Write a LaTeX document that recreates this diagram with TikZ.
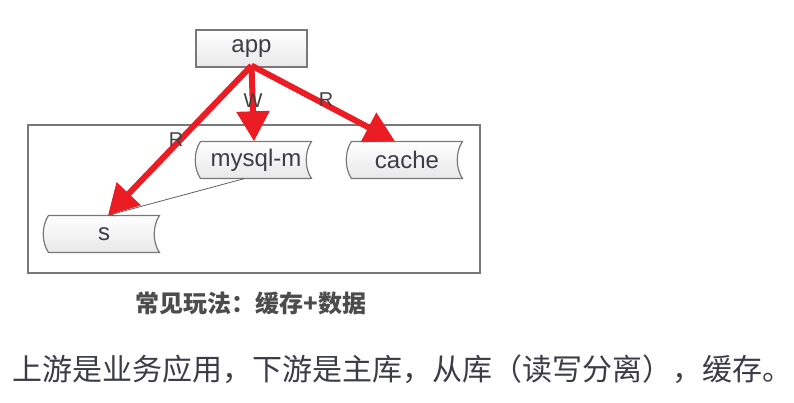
\documentclass[tikz,border=0pt]{standalone}
\usepackage{fontspec}
\setmainfont{Liberation Sans}
\newfontfamily\cjk{Noto Sans CJK SC}
\usetikzlibrary{arrows.meta,positioning,calc}
\definecolor{flowred}{RGB}{235,28,36}
\definecolor{boxline}{RGB}{120,120,120}
\definecolor{txtgray}{RGB}{60,60,70}
\tikzset{
    appbox/.style={draw=boxline, line width=1.2pt, top color=white, bottom color=gray!18,
                   minimum width=111pt, minimum height=37pt, font=\fontsize{24}{26}\selectfont, text=txtgray},
    tapefill/.style={draw=boxline, line width=1.2pt, top color=white, bottom color=gray!18},
    tapetext/.style={minimum width=111pt, minimum height=37pt, font=\fontsize{24}{26}\selectfont, text=txtgray},
    frame/.style={draw=boxline, line width=1.5pt},
    flow/.style={flowred, line width=6pt, -{Triangle[length=30pt,width=32pt]}},
    sync/.style={boxline!80!black, line width=0.8pt, -{Stealth[length=7pt,width=6pt]}},
    lbl/.style={font=\fontsize{20}{22}\selectfont, text=black!75},
}
% tape-like store: outline first, then the named node on top
\newcommand{\tapenode}[3]{%
    \path[tapefill] ($(#2)+(-55.5,18.5)$) .. controls +(-7,-10) and +(-7,10) .. ++(0,-37)
        -- ++(111,0) .. controls +(-7,10) and +(-7,-10) .. ++(0,37) -- cycle;
    \node[tapetext] (#1) at (#2) {#3};}

\begin{document}
\begin{tikzpicture}[x=1pt, y=1pt]
    \useasboundingbox (0,0) rectangle (794,-402);

    % Container
    \node[frame, minimum width=452pt, minimum height=148pt, inner sep=0pt] (db) at (254,-199) {};

    % App
    \node[appbox] (app) at (251.5,-48.5) {app};

    % Stores
    \tapenode{master}{256,-160}{mysql-m}
    \tapenode{cache}{407,-160}{cache}
    \tapenode{slave}{104,-234}{s}

    % Replication
    \coordinate (mout) at ($(master.south)+(-12,0)$);
    \coordinate (sin) at ($(slave.north)+(4,0)$);
    \draw[sync] (mout) -- (sin);

    % Reads and writes
    \coordinate (aout) at ($(app.south)+(0,2)$);
    \draw[flow] (aout) -- ($(master.north)+(-2,0)$);
    \draw[flow] (aout) -- ($(cache.north)+(-12,0)$);
    \draw[flow] (aout) -- (sin);

    % Labels
    \node[lbl] (w) at (253,-101) {W};
    \node[lbl] (rc) at (326,-100) {R};
    \node[lbl] (rs) at (176,-140) {R};

    % Caption
    \node[font=\cjk\bfseries\fontsize{24}{26}\selectfont, text=black!70] (cap) at (251,-303) {常见玩法：缓存+数据};
    \node[font=\cjk\fontsize{30}{32}\selectfont, text=txtgray, anchor=west] (note) at (9,-369)
        {上游是业务应用，下游是主库，从库（读写分离），缓存。};
\end{tikzpicture}
\end{document}
